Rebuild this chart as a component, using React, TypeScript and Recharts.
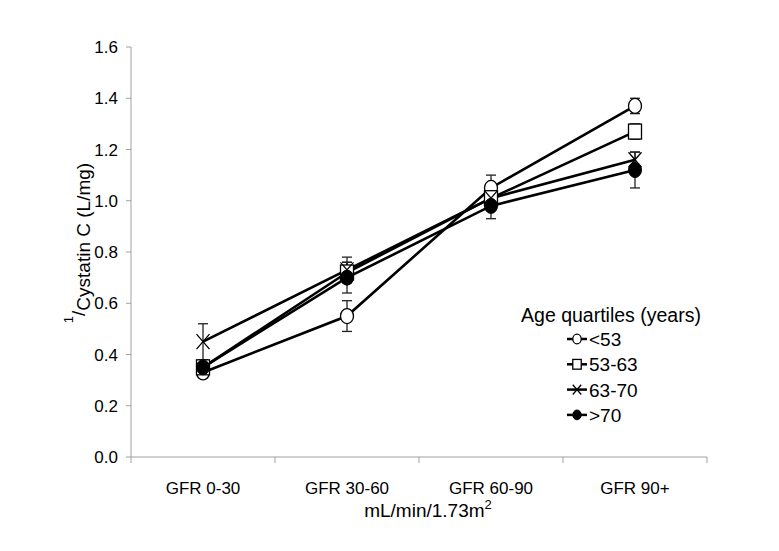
import { ErrorBar, Line, LineChart, XAxis, YAxis } from "recharts";

const categories = ["GFR 0-30", "GFR 30-60", "GFR 60-90", "GFR 90+"];
const yTicks = [0, 0.2, 0.4, 0.6, 0.8, 1.0, 1.2, 1.4, 1.6];

const under53 = [0.33, 0.55, 1.05, 1.37];
const under53Err = [0.02, 0.06, 0.05, 0.03];
const from53to63 = [0.35, 0.72, 1.01, 1.27];
const from53to63Err = [0.02, 0.04, 0.04, 0.03];
const from63to70 = [0.45, 0.73, 1.01, 1.16];
const from63to70Err = [0.07, 0.05, 0.04, 0.03];
const over70 = [0.35, 0.7, 0.98, 1.12];
const over70Err = [0.03, 0.06, 0.05, 0.07];

const series = [
  { key: "under53", name: "<53", values: under53, errors: under53Err, marker: "circle" },
  { key: "from53to63", name: "53-63", values: from53to63, errors: from53to63Err, marker: "square" },
  { key: "from63to70", name: "63-70", values: from63to70, errors: from63to70Err, marker: "cross" },
  { key: "over70", name: ">70", values: over70, errors: over70Err, marker: "filled" },
];

const chartData = categories.map((cat, i) => {
  const row: Record<string, number | string> = { x: i + 0.5, category: cat };
  series.forEach((s) => {
    row[s.key] = s.values[i];
    row[s.key + "Err"] = s.errors[i];
  });
  return row;
});

const FONT = "'Liberation Sans', Arial, sans-serif";

function Marker({ type, cx, cy, s = 1 }: { type: string; cx: number; cy: number; s?: number }) {
  const rx = 6.5 * s;
  const ry = 7.5 * s;
  if (type === "circle")
    return <ellipse cx={cx} cy={cy} rx={rx} ry={ry} fill="#fff" stroke="#000" strokeWidth={1.3} />;
  if (type === "square")
    return (
      <rect x={cx - rx} y={cy - ry} width={rx * 2} height={ry * 2} fill="#fff" stroke="#000" strokeWidth={1.3} />
    );
  if (type === "cross")
    return (
      <path
        d={`M${cx - rx},${cy - ry}L${cx + rx},${cy + ry}M${cx + rx},${cy - ry}L${cx - rx},${cy + ry}`}
        stroke="#000"
        strokeWidth={1.3}
        fill="none"
      />
    );
  return <ellipse cx={cx} cy={cy} rx={rx} ry={ry} fill="#000" stroke="#000" strokeWidth={1} />;
}

function makeDot(type: string) {
  return (props: { cx?: number; cy?: number; index?: number }) => {
    if (props.cx == null || props.cy == null) return <g key={props.index} />;
    return (
      <g key={props.index}>
        <Marker type={type} cx={props.cx} cy={props.cy} />
      </g>
    );
  };
}

function XTick(props: { x?: number; y?: number; payload?: { value: number } }) {
  const { x = 0, y = 0, payload } = props;
  const v = payload?.value ?? 0;
  if (Number.isInteger(v)) {
    return <line x1={x} x2={x} y1={y} y2={y + 6} stroke="#a0a0a0" strokeWidth={1} />;
  }
  return (
    <text x={x} y={y + 37} textAnchor="middle" fontSize={17} fontFamily={FONT} fill="#000">
      {categories[Math.floor(v)]}
    </text>
  );
}

function YLabel(props: { viewBox?: { x: number; y: number; width: number; height: number } }) {
  const vb = props.viewBox ?? { x: 0, y: 0, width: 0, height: 0 };
  const cx = vb.x + 14;
  const cy = vb.y + 196;
  return (
    <text
      transform={`translate(${cx},${cy}) rotate(-90)`}
      textAnchor="middle"
      fontSize={19}
      fontFamily={FONT}
      fill="#000"
    >
      <tspan dy={-12} fontSize={13}>1</tspan>
      <tspan dy={12}>/</tspan>
      <tspan dy={5}>Cystatin C (L/mg)</tspan>
    </text>
  );
}

function XLabel(props: { viewBox?: { x: number; y: number; width: number; height: number } }) {
  const vb = props.viewBox ?? { x: 0, y: 0, width: 0, height: 0 };
  return (
    <text x={vb.x + vb.width / 2 + 9} y={vb.y + 60} textAnchor="middle" fontSize={19} fontFamily={FONT} fill="#000">
      mL/min/1.73m<tspan dy={-8} fontSize={13}>2</tspan>
    </text>
  );
}

function AgeLegend() {
  return (
    <svg width={230} height={130} style={{ display: "block" }}>
      <text x={101} y={20} textAnchor="middle" fontSize={19.5} fontFamily={FONT} fill="#000">
        Age quartiles (years)
      </text>
      {series.map((s, i) => {
        const cy = 37 + i * 25.3;
        return (
          <g key={s.key}>
            <line x1={57} x2={77} y1={cy} y2={cy} stroke="#000" strokeWidth={2.5} />
            <Marker type={s.marker} cx={67} cy={cy} s={0.65} />
            <text x={79} y={cy + 7} fontSize={19} fontFamily={FONT} fill="#000">
              {s.name}
            </text>
          </g>
        );
      })}
    </svg>
  );
}

export default function App() {
  return (
    <div style={{ position: "absolute", left: 0, top: 0, width: 779, height: 551, background: "#fff" }}>
      <LineChart
        width={779}
        height={551}
        data={chartData}
        margin={{ top: 47, right: 72, bottom: 64, left: 71 }}
      >
        <XAxis
          dataKey="x"
          type="number"
          height={30}
          domain={[0, 4]}
          ticks={[0, 0.5, 1, 1.5, 2, 2.5, 3, 3.5, 4]}
          interval={0}
          tickLine={false}
          tickSize={0}
          tickMargin={0}
          axisLine={{ stroke: "#a0a0a0" }}
          tick={<XTick />}
          label={<XLabel />}
        />
        <YAxis
          width={60}
          domain={[0, 1.6]}
          ticks={yTicks}
          interval={0}
          tickFormatter={(v: number) => v.toFixed(1)}
          tick={{ fill: "#000", fontSize: 17, fontFamily: FONT }}
          tickLine={{ stroke: "#a0a0a0" }}
          tickSize={5}
          tickMargin={8}
          axisLine={{ stroke: "#a0a0a0" }}
          label={<YLabel />}
        />
        {series.map((s) => (
          <Line
            key={s.key}
            dataKey={s.key}
            name={s.name}
            type="linear"
            stroke="#000"
            strokeWidth={2.6}
            dot={makeDot(s.marker)}
            activeDot={false}
            isAnimationActive={false}
          >
            <ErrorBar dataKey={s.key + "Err"} width={5} stroke="#222" strokeWidth={1.3} direction="y" />
          </Line>
        ))}
      </LineChart>
      <div style={{ position: "absolute", left: 510, top: 302 }}>
        <AgeLegend />
      </div>
    </div>
  );
}
